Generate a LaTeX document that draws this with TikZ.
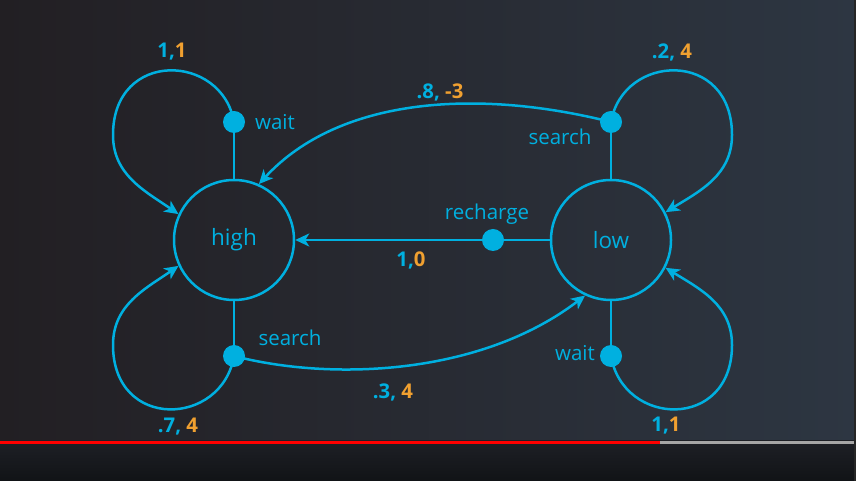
\documentclass[tikz,border=0pt]{standalone}
\usepackage{fontspec}
\setmainfont{Open Sans}
\usetikzlibrary{arrows.meta,shadings}
\definecolor{cblue}{HTML}{00B0E0}
\definecolor{corange}{HTML}{F0A030}
\definecolor{bgA}{HTML}{221F23}
\definecolor{bgB}{HTML}{2D3642}
\definecolor{barA}{HTML}{1E2026}
\definecolor{barB}{HTML}{111316}
\tikzset{
  state/.style={circle,draw=cblue,line width=2.5pt,minimum size=120pt,inner sep=0pt,text=cblue,font=\fontsize{22.5}{26}\selectfont},
  act/.style={circle,fill=cblue,minimum size=22pt,inner sep=0pt},
  edge/.style={draw=cblue,line width=2.5pt},
  arr/.style={edge,-{Stealth[length=14pt,width=13pt,inset=4pt]}},
  lab/.style={text=cblue,font=\fontsize{20.5}{24}\selectfont,inner sep=0pt},
  num/.style={font=\bfseries\fontsize{20.3}{24}\selectfont,inner sep=0pt},
}
\newcommand{\pb}[1]{\textcolor{cblue}{#1}}
\newcommand{\po}[1]{\textcolor{corange}{#1}}
\begin{document}
\begin{tikzpicture}[x=1pt,y=1pt]
\useasboundingbox (0,0) rectangle (856,481);
% background
\shade[left color=bgA,right color=bgB] (0,40) rectangle (856,481);
\shade[top color=barA,bottom color=barB] (0,0) rectangle (856,40);
\fill[red] (0,37) rectangle (660,40);
\fill[gray!70] (660,37) rectangle (856,40);
\fill[black!85] (854,0) rectangle (856,481);
% states
\node[state] (high) at (234,241) {high};
\node[state] (low) at (611,241) {low};
% action dots
\node[act] (waitH) at (234,359) {};
\node[act] (searchH) at (234,125) {};
\node[act] (searchL) at (611,359) {};
\node[act] (waitL) at (611,125) {};
\node[act] (rech) at (493,241) {};
% stems
\draw[edge] (waitH) -- (high.north);
\draw[edge] (searchH) -- (high.south);
\draw[edge] (searchL) -- (low.north);
\draw[edge] (waitL) -- (low.south);
\draw[edge] (low.west) -- (rech);
\draw[arr] (rech) -- (high.east);
% loops
\draw[arr] (waitH.center) .. controls (222,428) and (113,432) .. (113,346) .. controls (113,306) and (145,290) .. (high.155);
\draw[arr] (searchH.center) .. controls (222,54) and (113,50) .. (113,136) .. controls (113,176) and (145,192) .. (high.205);
\draw[arr] (searchL.center) .. controls (623,428) and (732,432) .. (732,346) .. controls (732,306) and (700,290) .. (low.27);
\draw[arr] (waitL.center) .. controls (623,54) and (732,50) .. (732,136) .. controls (732,176) and (700,192) .. (low.-27);
% cross transitions
\draw[arr] (searchL.center) .. controls (480,392) and (340,385) .. (high.66);
\draw[arr] (searchH.center) .. controls (330,100) and (480,105) .. (low.245);
% labels
\node[lab] (lwH) at (275,359) {wait};
\node[lab] (lsL) at (560,344) {search};
\node[lab] (lrc) at (487,267) {recharge};
\node[lab] (lsH) at (290,143) {search};
\node[lab] (lwL) at (575,128) {wait};
\node[num] (n1) at (172,429) {\pb{1,}\po{1}};
\node[num] (n2) at (672,429) {\pb{.2,} \po{4}};
\node[num] (n3) at (440,389) {\pb{.8,} \po{-3}};
\node[num] (n4) at (411,221) {\pb{1,}\po{0}};
\node[num] (n5) at (178,54) {\pb{.7,} \po{4}};
\node[num] (n6) at (393,89) {\pb{.3,} \po{4}};
\node[num] (n7) at (666,55) {\pb{1,}\po{1}};
\end{tikzpicture}
\end{document}
